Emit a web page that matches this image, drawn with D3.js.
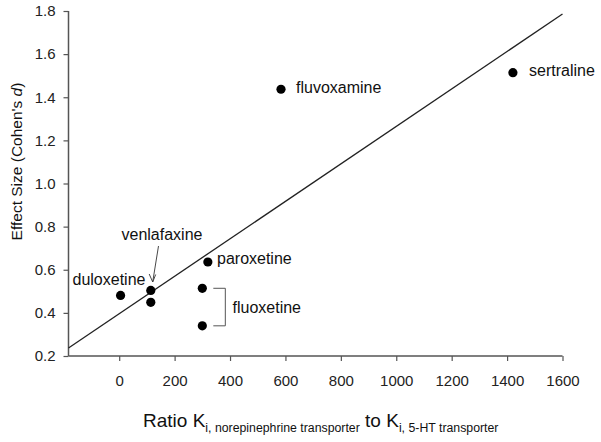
<!DOCTYPE html>
<html><head><meta charset="utf-8">
<script src="https://cdn.jsdelivr.net/npm/d3@7"></script>
<style>
body{margin:0;background:#fff;}
text{font-family:"Liberation Sans",Arial,sans-serif;}
</style></head>
<body><svg id="c" width="601" height="442"></svg>
<script>
const drugs = ["duloxetine","venlafaxine","venlafaxine","fluoxetine","fluoxetine","paroxetine","fluvoxamine","sertraline"];
const ratio = [5,114,114,300,300,320,584,1421];
const effect = [0.481,0.504,0.449,0.514,0.34,0.636,1.437,1.514];
const xTicks = [0,200,400,600,800,1000,1200,1400,1600];
const yTicks = [0.2,0.4,0.6,0.8,1.0,1.2,1.4,1.6,1.8];
const fitLine = [[-183,0.237],[1600,1.786]];

const svg = d3.select("#c");
const x = d3.scaleLinear().domain([-183,1600]).range([68.5,562.5]);
const y = d3.scaleLinear().domain([0.2,1.8]).range([356,11]);
const axisCol = "#555";

const gx = svg.append("g").attr("transform","translate(0,356)")
  .call(d3.axisBottom(x).tickValues(xTicks).tickSize(5).tickPadding(14).tickFormat(d3.format("d")));
const gy = svg.append("g").attr("transform","translate(68.5,0)")
  .call(d3.axisLeft(y).tickValues(yTicks).tickSize(5).tickPadding(8).tickFormat(d3.format(".1f")));
[gx,gy].forEach(g=>{
  g.select(".domain").attr("stroke",axisCol).attr("stroke-width",1.5);
  g.selectAll(".tick line").attr("stroke",axisCol).attr("stroke-width",1.2);
  g.selectAll(".tick text").attr("fill","#222").style("font-size","15px").style("font-family","Liberation Sans, Arial, sans-serif");
});
gx.select(".domain").attr("d",`M${x(-183)},0H${x(1600)}`);
gy.select(".domain").attr("d",`M0,${y(0.2)}V${y(1.8)}`);

// regression line
svg.append("path")
  .attr("d", d3.line().x(d=>x(d[0])).y(d=>y(d[1]))(fitLine))
  .attr("stroke","#222").attr("stroke-width",1.3).attr("fill","none");

// points
svg.selectAll("circle.pt").data(ratio).join("circle")
  .attr("class","pt")
  .attr("cx",(d)=>x(d)).attr("cy",(d,i)=>y(effect[i])).attr("r",4.6).attr("fill","#000");

// labels
const lab = (t,px,py)=>svg.append("text").attr("x",px).attr("y",py).text(t)
  .attr("fill","#111").style("font-size","16px");
lab("sertraline", 529, 76);
lab("fluvoxamine", 296, 93);
lab("paroxetine", 217, 264);
lab("duloxetine", 72.5, 285);
lab("venlafaxine", 121.5, 240);
lab("fluoxetine", 232.5, 313);

// venlafaxine arrow
const ax0=[158.5,246], ax1=[152.7,282];
svg.append("line").attr("x1",ax0[0]).attr("y1",ax0[1]).attr("x2",ax1[0]).attr("y2",ax1[1])
  .attr("stroke","#333").attr("stroke-width",0.9);
svg.append("path").attr("d",`M${ax1[0]-3.5},${ax1[1]-8}L${ax1[0]},${ax1[1]}L${ax1[0]+3},${ax1[1]-7.5}`)
  .attr("stroke","#333").attr("stroke-width",0.9).attr("fill","none");

// fluoxetine bracket
const bx0 = x(ratio[3])+11, bx1 = x(ratio[3])+23;
svg.append("path")
  .attr("d",`M${bx0},${y(effect[3])}H${bx1}V${y(effect[4])}H${bx0}`)
  .attr("stroke","#555").attr("stroke-width",1).attr("fill","none");

// axis titles
const yt = svg.append("text").attr("transform","translate(22,161.5) rotate(-90)")
  .attr("text-anchor","middle").attr("fill","#111").style("font-size","15.5px");
yt.append("tspan").text("Effect Size (Cohen's ");
yt.append("tspan").text("d").style("font-style","italic");
yt.append("tspan").text(")");

const xt = svg.append("text").attr("x",143).attr("y",427).attr("text-anchor","start")
  .attr("fill","#111").style("font-size","19px");
xt.append("tspan").text("Ratio K");
xt.append("tspan").text("i, norepinephrine transporter").attr("dy",4.5).style("font-size","12.3px");
xt.append("tspan").text(" to K").attr("dy",-4.5);
xt.append("tspan").text("i, 5-HT transporter").attr("dy",4.5).style("font-size","12.3px");
</script></body></html>
